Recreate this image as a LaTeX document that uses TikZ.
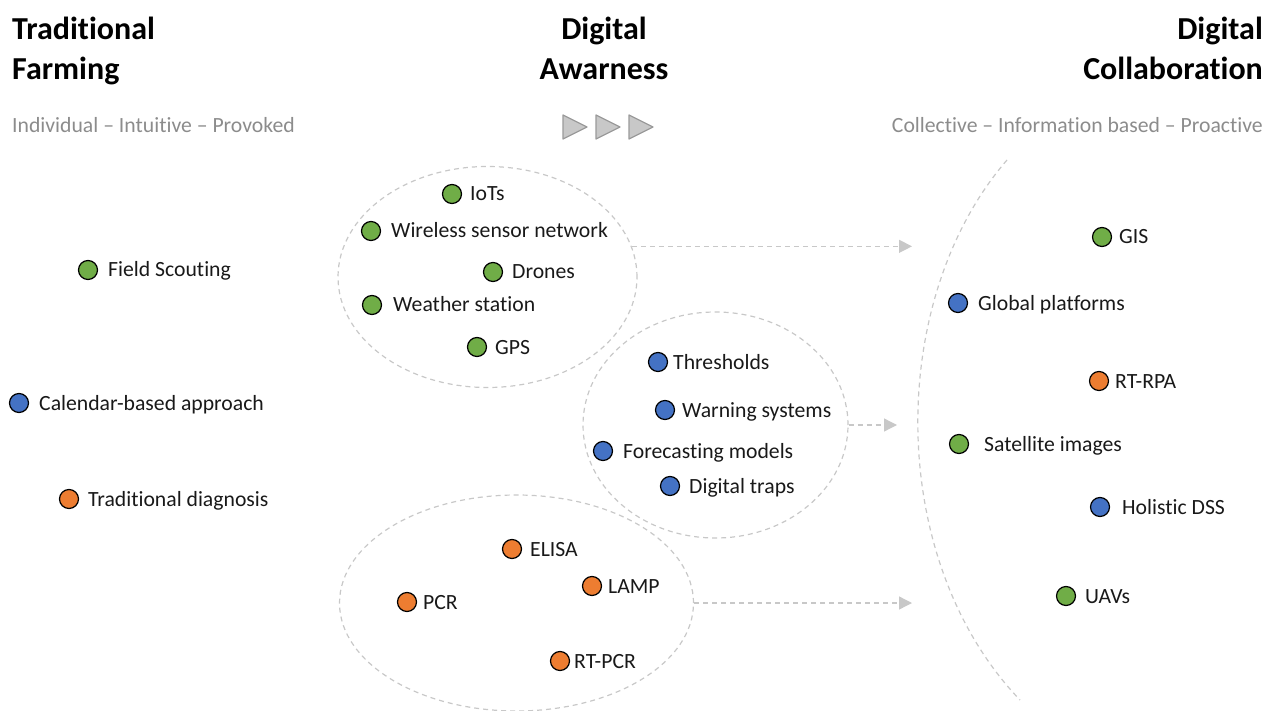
\documentclass[tikz,border=0pt]{standalone}
\usepackage{fontspec}
\setmainfont{Carlito}[Ligatures=NoCommon]
\usetikzlibrary{arrows.meta,shapes.geometric}
\definecolor{dgreen}{HTML}{70AD47}
\definecolor{dblue}{HTML}{4472C4}
\definecolor{dorange}{HTML}{ED7D31}
\definecolor{dashgray}{HTML}{C8C8C8}
\definecolor{subgray}{HTML}{8C8C8C}
\definecolor{trifill}{HTML}{C8C8C8}
\definecolor{triline}{HTML}{9A9A9A}
\tikzset{
  dot/.style={circle,draw=black,line width=1.2pt,minimum size=19pt,inner sep=0pt},
  lbl/.style={anchor=base west,inner sep=0pt,font=\fontsize{21.7}{26}\selectfont,text=black!90},
  ttl/.style={inner sep=0pt,font=\bfseries\fontsize{32}{38}\selectfont},
  sub/.style={inner sep=0pt,font=\fontsize{21.7}{26}\selectfont,text=subgray},
  grp/.style={ellipse,draw=dashgray,line width=1.2pt,dash pattern=on 5pt off 4pt,inner sep=0pt},
  flow/.style={draw=dashgray,line width=1.3pt,dash pattern=on 5pt off 4pt,
    -{Triangle[length=13pt,width=13pt,fill=dashgray]}},
  tri/.style={fill=trifill,draw=triline,line width=1.2pt,line join=round}
}
\newcommand\mkitem[6]{%
  \node[dot,fill=#4] (#1) at (#2,#3) {};
  \node[lbl] (#1-t) at (#5,#3+7) {#6};}
\begin{document}
\begin{tikzpicture}[x=1pt,y=-1pt]
\useasboundingbox (0,0) rectangle (1266,711);
% titles
\node[ttl,anchor=base west] (t1a) at (12,40) {Traditional};
\node[ttl,anchor=base west] (t1b) at (12,80) {Farming};
\node[ttl,anchor=base] (t2a) at (604,40) {Digital};
\node[ttl,anchor=base] (t2b) at (604,80) {Awarness};
\node[ttl,anchor=base east] (t3a) at (1263,40) {Digital};
\node[ttl,anchor=base east] (t3b) at (1263,80) {Collaboration};
\node[sub,anchor=base west] (s1) at (12,133) {Individual – Intuitive – Provoked};
\node[sub,anchor=base east] (s3) at (1263,133) {Collective – Information based – Proactive};
% triangles
\foreach \x in {563,596,629}{
  \draw[tri] (\x,115) -- (\x+24,127) -- (\x,139) -- cycle;
}
% groups
\node[grp,minimum width=299pt,minimum height=221pt] (e1) at (487.5,277) {};
\node[grp,minimum width=265pt,minimum height=226pt] (e2) at (715.5,425) {};
\node[grp,minimum width=354pt,minimum height=216pt] (e3) at (516.5,603) {};
\draw[draw=dashgray,line width=1.2pt,dash pattern=on 5pt off 4pt]
  (1007,160) .. controls (886,300) and (886,560) .. (1020,700);
% arrow targets
\coordinate (a1) at (912,245);
\coordinate (a2) at (897,428);
\coordinate (a3) at (912,604);
\draw[flow] (e1.12) -- (e1.12 -| a1);
\draw[flow] (e2.east) -- (e2.east -| a2);
\draw[flow] (e3.east) -- (e3.east -| a3);
% traditional
\mkitem{fs}{88}{270}{dgreen}{108}{Field Scouting}
\mkitem{cb}{19}{403}{dblue}{39}{Calendar-based approach}
\mkitem{td}{69}{499}{dorange}{88}{Traditional diagnosis}
% group 1
\mkitem{iot}{452}{194}{dgreen}{470}{IoTs}
\mkitem{wsn}{371}{231}{dgreen}{391}{Wireless sensor network}
\mkitem{dr}{493}{272}{dgreen}{512}{Drones}
\mkitem{ws}{372}{305}{dgreen}{393}{Weather station}
\mkitem{gps}{477}{347}{dgreen}{495}{GPS}
% group 2
\mkitem{th}{658}{362}{dblue}{673}{Thresholds}
\mkitem{wa}{665}{410}{dblue}{682}{Warning systems}
\mkitem{fm}{603}{451}{dblue}{623}{Forecasting models}
\mkitem{dt}{670}{486}{dblue}{689}{Digital traps}
% group 3
\mkitem{el}{512}{549}{dorange}{530}{ELISA}
\mkitem{la}{592}{586}{dorange}{608}{LAMP}
\mkitem{pcr}{407}{602}{dorange}{423}{PCR}
\mkitem{rtp}{560}{661}{dorange}{574}{RT-PCR}
% collaboration
\mkitem{gis}{1102}{237}{dgreen}{1119}{GIS}
\mkitem{gp}{958}{303}{dblue}{978}{Global platforms}
\mkitem{rpa}{1099}{381}{dorange}{1115}{RT-RPA}
\mkitem{si}{959}{444}{dgreen}{984}{Satellite images}
\mkitem{hd}{1100}{507}{dblue}{1122}{Holistic DSS}
\mkitem{uav}{1066}{596}{dgreen}{1085}{UAVs}
\end{tikzpicture}
\end{document}
